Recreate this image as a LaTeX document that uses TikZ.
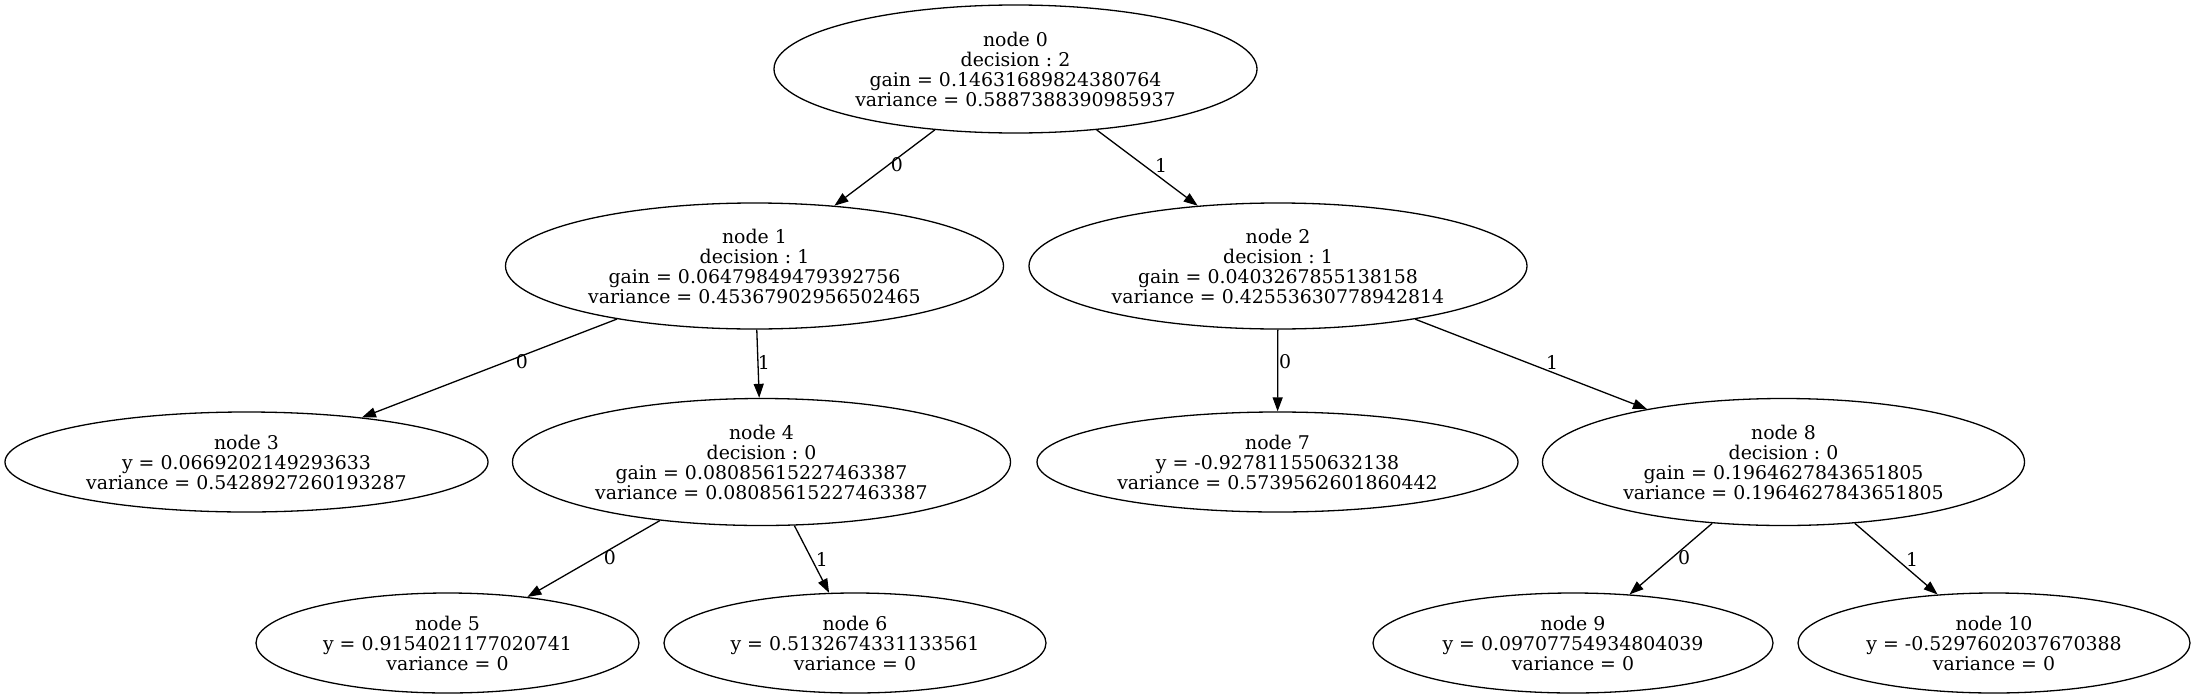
\documentclass[tikz,border=0pt]{standalone}
\usepackage{fontspec}
\setmainfont{DejaVu Serif}
\usetikzlibrary{shapes.geometric,arrows.meta}
\begin{document}
\frenchspacing
\begin{tikzpicture}[x=1pt,y=-1pt,
  tnode/.style={draw,ellipse,inner sep=0pt,line width=1.3pt,align=center,
    font=\fontsize{18.9}{20}\selectfont},
  edge/.style={line width=1.3pt,-{Triangle[length=14pt,width=10pt]}},
  elabel/.style={inner sep=0pt,font=\fontsize{18.9}{20}\selectfont}]
\fill[white] (0,0) rectangle (2195,699);
\useasboundingbox (0,0) rectangle (2195,699);
\node[tnode,minimum width=483pt,minimum height=128pt] (n0) at (1015.5,69)
  {node 0\\decision : 2\\gain = 0.14631689824380764\\variance = 0.5887388390985937};
\node[tnode,minimum width=498pt,minimum height=126pt] (n1) at (754.5,266)
  {node 1\\decision : 1\\gain = 0.06479849479392756\\variance = 0.45367902956502465};
\node[tnode,minimum width=498pt,minimum height=126pt] (n2) at (1278,266)
  {node 2\\decision : 1\\gain = 0.0403267855138158\\variance = 0.42553630778942814};
\node[tnode,minimum width=483pt,minimum height=100pt] (n3) at (246.5,462)
  {node 3\\y = 0.0669202149293633\\variance = 0.5428927260193287};
\node[tnode,minimum width=498pt,minimum height=127pt] (n4) at (761.5,462)
  {node 4\\decision : 0\\gain = 0.08085615227463387\\variance = 0.08085615227463387};
\node[tnode,minimum width=481pt,minimum height=100pt] (n7) at (1277.5,462)
  {node 7\\y = -0.927811550632138\\variance = 0.5739562601860442};
\node[tnode,minimum width=482pt,minimum height=127pt] (n8) at (1783.5,462)
  {node 8\\decision : 0\\gain = 0.1964627843651805\\variance = 0.1964627843651805};
\node[tnode,minimum width=383pt,minimum height=100pt] (n5) at (447.5,643)
  {node 5\\y = 0.9154021177020741\\variance = 0};
\node[tnode,minimum width=382pt,minimum height=100pt] (n6) at (855,643)
  {node 6\\y = 0.5132674331133561\\variance = 0};
\node[tnode,minimum width=400pt,minimum height=100pt] (n9) at (1573,643)
  {node 9\\y = 0.09707754934804039\\variance = 0};
\node[tnode,minimum width=392pt,minimum height=100pt] (n10) at (1994,643)
  {node 10\\y = -0.5297602037670388\\variance = 0};
\draw[edge] (n0) -- (n1) node[elabel] (l01) at (897,165) {0};
\draw[edge] (n0) -- (n2) node[elabel] (l02) at (1161,165) {1};
\draw[edge] (n1) -- (n3) node[elabel] (l13) at (522,362) {0};
\draw[edge] (n1) -- (n4) node[elabel] (l14) at (764,362) {1};
\draw[edge] (n2) -- (n7) node[elabel] (l27) at (1285,362) {0};
\draw[edge] (n2) -- (n8) node[elabel] (l28) at (1552,362) {1};
\draw[edge] (n4) -- (n5) node[elabel] (l45) at (610,558) {0};
\draw[edge] (n4) -- (n6) node[elabel] (l46) at (822,559) {1};
\draw[edge] (n8) -- (n9) node[elabel] (l89) at (1684,558) {0};
\draw[edge] (n8) -- (n10) node[elabel] (l810) at (1912,559) {1};
\end{tikzpicture}
\end{document}
